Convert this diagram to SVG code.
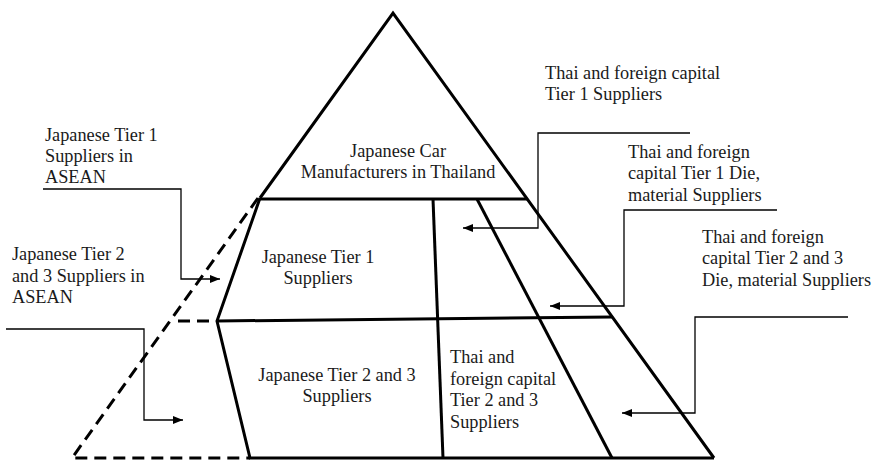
<svg xmlns="http://www.w3.org/2000/svg" width="878" height="462" viewBox="0 0 878 462">
<style>
text{font-family:"Liberation Serif","Times New Roman",serif;font-size:18.3px;fill:#1a1a1a}
.m{text-anchor:middle}
.p{fill:none;stroke:#000;stroke-width:3;stroke-linejoin:miter}
.d{fill:none;stroke:#000;stroke-width:3;stroke-dasharray:12 7}
.c{fill:none;stroke:#000;stroke-width:1.3}
</style>
<defs>
<marker id="ah" viewBox="0 0 10 8" refX="10" refY="4" markerWidth="10" markerHeight="8" markerUnits="userSpaceOnUse" orient="auto">
<path d="M0,0 L10,4 L0,8 Z" fill="#000"/>
</marker>
</defs>
<rect width="878" height="462" fill="#fff"/>
<g id="pyramid">
<path class="p" d="M260,198 L393,13 L714,458"/>
<path class="p" d="M260,199 L527,199"/>
<path class="p" d="M260,198 L217,321 L250,458 L714,458"/>
<path class="p" d="M217,321 L612,317"/>
<path class="p" d="M433,199 L443,458"/>
<path class="p" d="M477,199 L612,458"/>
</g>
<g id="asean-area">
<path class="d" d="M258,198 L72,458 L250,458"/>
<path class="d" d="M178,321 L217,321"/>
</g>
<g id="n-car"><text class="m" x="398" y="157">Japanese Car</text><text class="m" x="398" y="178">Manufacturers in Thailand</text></g>
<g id="n-jt1"><text class="m" x="318" y="263">Japanese Tier 1</text><text class="m" x="318" y="284">Suppliers</text></g>
<g id="n-jt23"><text class="m" x="337" y="381">Japanese Tier 2 and 3</text><text class="m" x="337" y="402">Suppliers</text></g>
<g id="n-tf23"><text x="450" y="363">Thai and</text><text x="450" y="385">foreign capital</text><text x="450" y="406">Tier 2 and 3</text><text x="450" y="428">Suppliers</text></g>
<g id="l-jt1asean"><text x="45" y="141">Japanese Tier 1</text><text x="45" y="162">Suppliers in</text><text x="45" y="183">ASEAN</text></g>
<g id="l-jt23asean"><text x="12" y="260">Japanese Tier 2</text><text x="12" y="282">and 3 Suppliers in</text><text x="12" y="303">ASEAN</text></g>
<g id="l-tft1"><text x="545" y="79">Thai and foreign capital</text><text x="545" y="100">Tier 1 Suppliers</text></g>
<g id="l-tft1die"><text x="628" y="158">Thai and foreign</text><text x="628" y="179">capital Tier 1 Die,</text><text x="628" y="201">material Suppliers</text></g>
<g id="l-tft23die"><text x="702" y="243">Thai and foreign</text><text x="702" y="264">capital Tier 2 and 3</text><text x="702" y="286">Die, material Suppliers</text></g>
<g id="connectors">
<path class="c" marker-end="url(#ah)" d="M43,189 L181,189 L181,279 L220,279"/>
<path class="c" marker-end="url(#ah)" d="M6,329 L144,329 L144,420 L183,420"/>
<path class="c" marker-end="url(#ah)" d="M690,133 L538,133 L538,228 L463,228"/>
<path class="c" marker-end="url(#ah)" d="M777,210 L624,210 L624,306 L550,306"/>
<path class="c" marker-end="url(#ah)" d="M848,317 L695,317 L695,413 L622,413"/>
</g>
</svg>
